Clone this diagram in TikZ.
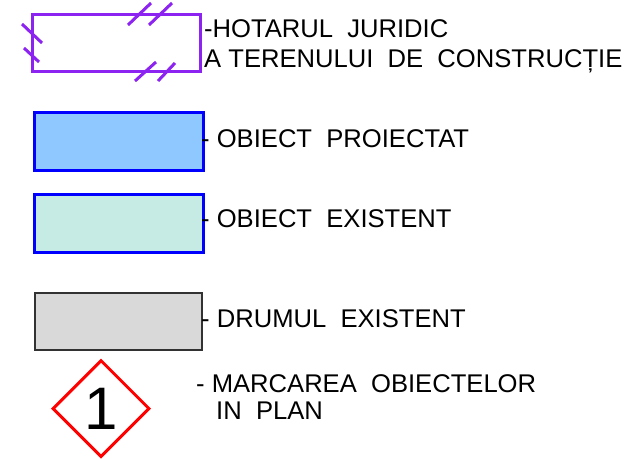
\documentclass[tikz,border=0pt]{standalone}
\usepackage{fontspec}
\setmainfont{Liberation Sans}
\usetikzlibrary{shapes.geometric}
\definecolor{hotar}{RGB}{140,35,240}
\definecolor{pfill}{RGB}{142,200,255}
\definecolor{efill}{RGB}{198,234,228}
\definecolor{dfill}{RGB}{217,217,217}
\definecolor{dline}{RGB}{50,50,50}
\tikzset{
  lbl/.style={anchor=base west,inner sep=0pt,font=\fontsize{25.6}{28}\selectfont},
  boundary/.style={draw=hotar,line width=3pt,minimum width=168pt,minimum height=57pt,inner sep=0pt},
  hatch/.style={draw=hotar,line width=3pt},
  objbox/.style={draw=blue,line width=3pt,minimum width=169pt,minimum height=58pt,inner sep=0pt},
  roadbox/.style={draw=dline,fill=dfill,line width=1.3pt,minimum width=167pt,minimum height=57pt,inner sep=0pt},
  markbox/.style={diamond,draw=red,line width=3pt,minimum width=97pt,minimum height=97pt,inner sep=0pt,font=\fontsize{60}{62}\selectfont}
}
\begin{document}
\begin{tikzpicture}[x=1pt,y=-1pt]
\useasboundingbox (0,0) rectangle (638,459);
% boundary legend
\node[boundary] (hot) at (116,42.5) {};
\draw[hatch] (22,24) -- (42,43);
\draw[hatch] (24,48) -- (39,62);
\draw[hatch] (128,25) -- (151,3);
\draw[hatch] (149,25) -- (172,3);
\draw[hatch] (135,81) -- (156,62);
\draw[hatch] (158,81) -- (175,63);
\node[lbl] (t1) at (204,37) {-HOTARUL\ \ JURIDIC};
\node[lbl] (t2) at (204,67) {A\ TERENULUI\ \ DE\ \ CONSTRUCȚIE};
% projected object
\node[objbox,fill=pfill] (pr) at (118.5,141) {};
\node[lbl] (t3) at (201,147) {-\ OBIECT\ \ PROIECTAT};
% existing object
\node[objbox,fill=efill] (ex) at (118.5,223) {};
\node[lbl] (t4) at (201,227) {-\ OBIECT\ \ EXISTENT};
% road
\node[roadbox] (dr) at (118.5,321.5) {};
\node[lbl] (t5) at (201,327) {-\ DRUMUL\ \ EXISTENT};
% marking
\node[markbox] (d1) at (101,408.5) {1};
\node[lbl] (t6) at (196,392) {-\ MARCAREA\ \ OBIECTELOR};
\node[lbl] (t7) at (216,419) {IN\ \ PLAN};
\end{tikzpicture}
\end{document}
